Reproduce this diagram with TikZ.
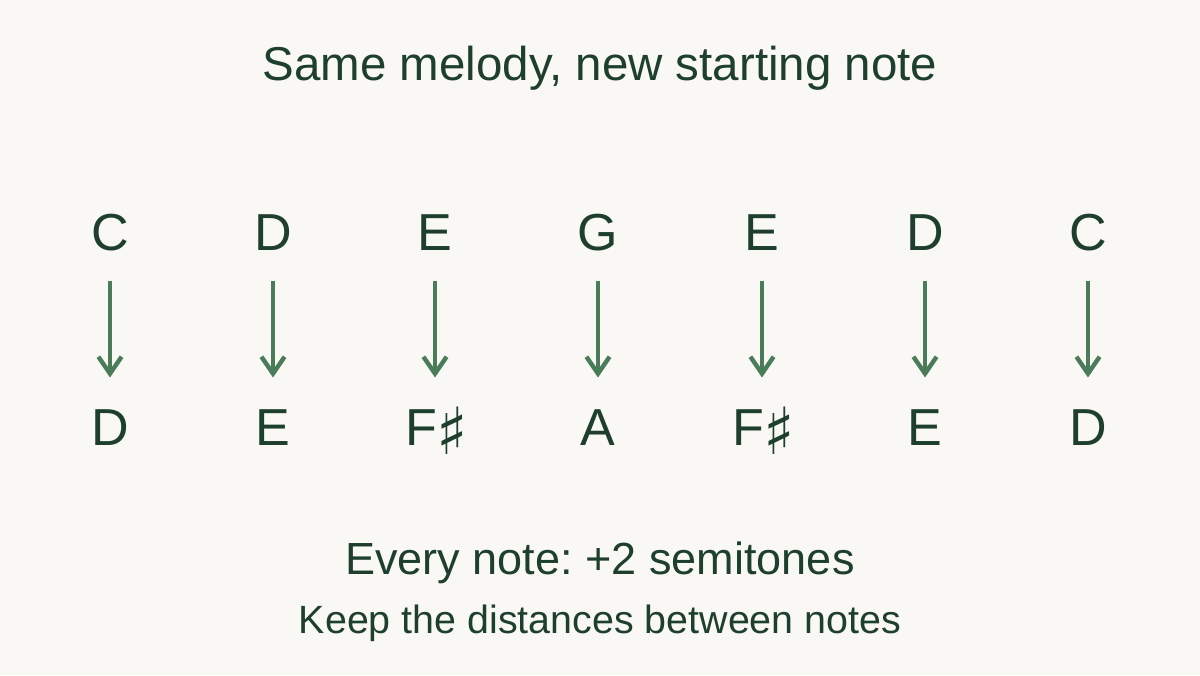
\documentclass[tikz,border=0pt]{standalone}
\usepackage{fontspec}
\setmainfont{Liberation Sans}
\newfontfamily\symfont{DejaVu Sans}
\usetikzlibrary{arrows.meta}
\definecolor{mdpaper}{RGB}{249, 248, 244}
\definecolor{mdink}{RGB}{30, 63, 45}
\definecolor{mdleaf}{RGB}{74, 124, 89}
\newcommand{\shp}{\kern-0.3pt\raisebox{-2.6pt}{\symfont\fontsize{18.5}{18.5}\selectfont\char"266F}}
\frenchspacing

\begin{document}
\begin{tikzpicture}[x=0.01cm, y=-0.01cm,
  every node/.style={text=mdink, inner sep=0pt, anchor=base},
  pitch/.style={font=\fontsize{14.8}{17}\selectfont, text height=10.5pt, text depth=0pt},
  transpose/.style={->, >={Straight Barb[length=4.8pt, width=6.6pt]}, line width=1.25pt,
                    mdleaf, shorten <=8.5pt, shorten >=8.5pt}]
  \fill[mdpaper] (0,0) rectangle (1200,675);

  % Title
  \node[font=\fontsize{13.5}{16}\selectfont] (title) at (600,80) {Same melody, new starting note};

  % Original melody
  \node[pitch] (o1) at (110,250) {C};
  \node[pitch] (o2) at (273,250) {D};
  \node[pitch] (o3) at (435,250) {E};
  \node[pitch] (o4) at (598,250) {G};
  \node[pitch] (o5) at (762,250) {E};
  \node[pitch] (o6) at (925,250) {D};
  \node[pitch] (o7) at (1088,250) {C};

  % Transposed melody
  \node[pitch] (t1) at (110,445) {D};
  \node[pitch] (t2) at (273,445) {E};
  \node[pitch] (t3) at (437,445) {F\shp};
  \node[pitch] (t4) at (598,445) {A};
  \node[pitch] (t5) at (764,445) {F\shp};
  \node[pitch] (t6) at (925,445) {E};
  \node[pitch] (t7) at (1088,445) {D};

  % Shift arrows
  \draw[transpose] (o1.south) -- (o1.south |- t1.north);
  \draw[transpose] (o2.south) -- (o2.south |- t2.north);
  \draw[transpose] (o3.south) -- (o3.south |- t3.north);
  \draw[transpose] (o4.south) -- (o4.south |- t4.north);
  \draw[transpose] (o5.south) -- (o5.south |- t5.north);
  \draw[transpose] (o6.south) -- (o6.south |- t6.north);
  \draw[transpose] (o7.south) -- (o7.south |- t7.north);

  % Caption
  \node[font=\fontsize{12.8}{15}\selectfont] (rule) at (600,574) {Every note: +2 semitones};
  \node[font=\fontsize{11.2}{13}\selectfont] (hint) at (600,633) {Keep the distances between notes};
\end{tikzpicture}
\end{document}
